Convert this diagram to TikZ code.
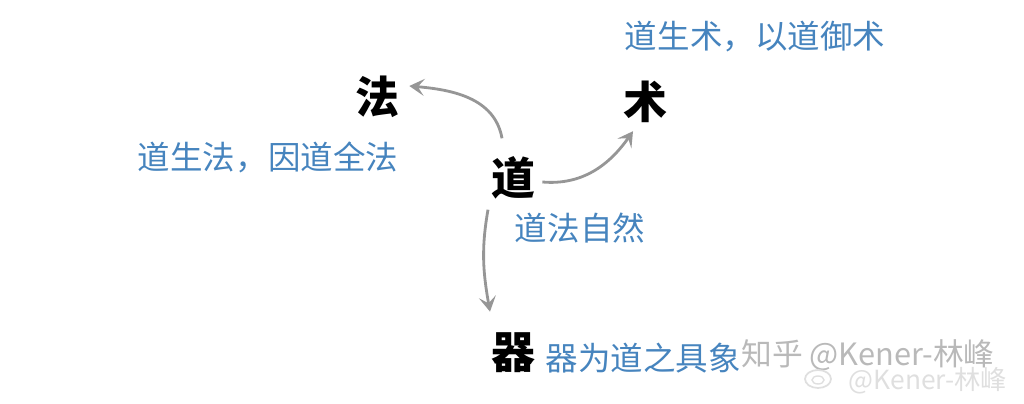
\documentclass[tikz,border=0pt]{standalone}
\usepackage{fontspec}
\newfontfamily\cjk{Noto Sans CJK SC}
\usetikzlibrary{calc,arrows.meta}
\definecolor{noteblue}{RGB}{70,132,190}
\definecolor{arrgray}{RGB}{150,150,150}

\begin{document}
\begin{tikzpicture}[x=0.02cm,y=0.02cm,
  big/.style={font=\cjk\bfseries\fontsize{25}{25}\selectfont,inner sep=0},
  note/.style={font=\cjk\fontsize{18.5}{18.5}\selectfont,text=noteblue,inner sep=0},
  wmark/.style={font=\cjk\fontsize{17.5}{17.5}\selectfont,inner sep=0},
  arr/.style={draw=arrgray,line width=1.6pt,-{Stealth[length=3mm,width=3.4mm,inset=1.3mm]}}]
\useasboundingbox (0,0) rectangle (1024,404);
% the four characters
\path(513,226) node[big] (dao) {道};
\path(377,307) node[big] (fa) {法};
\path(645,302) node[big] (shu) {术};
\path(513,51) node[big] (qi) {器};
% notes
\path(755,367) node[note] (shunote) {道生术，以道御术};
\path(268,247) node[note] (fanote) {道生法，因道全法};
\path(580,176) node[note] (daonote) {道法自然};
\path(643,46) node[note] (qinote) {器为道之具象};
% arrows from dao
\draw[arr] ($(dao.north)+(-11,18)$) to[out=100,in=-5] ($(fa.east)+(10,11)$);
\draw[arr] ($(dao.east)+(7,-4)$) to[out=-5,in=235] ($(shu.south)+(-12,-8)$);
\draw[arr] ($(dao.south)+(-25,-10)$) to[out=260,in=100] ($(qi.north)+(-23,21)$);
% watermarks
\path(868,49) node[wmark,text=gray!55] (zhihu) {知乎 @Kener-林峰};
\path(928,23) node[wmark,font=\cjk\fontsize{15}{15}\selectfont,text=gray!25] (weibo) {@Kener-林峰};
\draw[gray!25,line width=1pt] (818,25) ellipse (13 and 9);
\draw[gray!25,line width=0.8pt] (818,24) ellipse (6 and 4);
\end{tikzpicture}
\end{document}
